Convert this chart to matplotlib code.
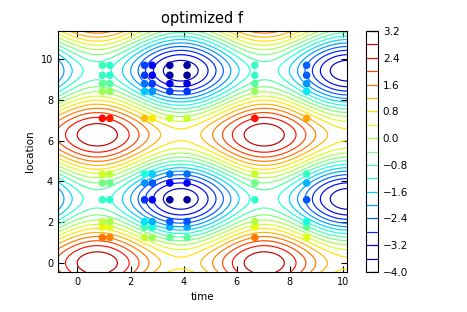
import matplotlib
matplotlib.use("Agg")
import matplotlib.pyplot as plt
import numpy as np

# field parameters: f = c + a*cos(y) + b*cos(t-t0) + d*cos(y)*cos(t-t0)
f_offset = -0.225
f_amp_loc = 2.225
f_amp_time = 1.275
f_amp_cross = -0.175
t_phase = 0.75
t_range = [-0.73, 10.15]
loc_range = [-0.44, 11.37]

levels = np.round(np.arange(-4.0, 3.21, 0.4), 1)
cbar_ticks = levels[::2]

# sample points (time columns x location rows)
pt_times = [0.94, 1.22, 2.53, 2.82, 3.48, 4.13, 6.68, 8.63]
pt_locs = [1.25, 1.76, 2.03, 3.10, 3.92, 4.36, 7.09, 8.41, 8.79, 9.20, 9.69]


def field(t, y):
    ct = np.cos(t - t_phase)
    cy = np.cos(y)
    return f_offset + f_amp_loc * cy + f_amp_time * ct + f_amp_cross * cy * ct


T, Y = np.meshgrid(np.linspace(t_range[0], t_range[1], 300),
                   np.linspace(loc_range[0], loc_range[1], 300))
F = field(T, Y)

PT, PY = np.meshgrid(pt_times, pt_locs)
PV = field(PT, PY)

plt.rcParams['font.family'] = 'DejaVu Sans'
plt.rcParams['xtick.direction'] = 'in'
plt.rcParams['ytick.direction'] = 'in'
plt.rcParams['xtick.top'] = True
plt.rcParams['ytick.right'] = True

fig = plt.figure(figsize=(4.67, 3.12), dpi=100)
ax = fig.add_axes([0.1242, 0.1282, 0.6188, 0.7724])
cax = fig.add_axes([0.7837, 0.1282, 0.0257, 0.7724])

cs = ax.contour(T, Y, F, levels=levels, cmap='jet', linewidths=0.85)
ax.scatter(PT.ravel(), PY.ravel(), c=PV.ravel(), cmap='jet', vmin=-4.0, vmax=3.2,
           s=30, linewidths=0, zorder=3)

ax.set_xlim(t_range)
ax.set_ylim(loc_range)
ax.set_xticks([0, 2, 4, 6, 8, 10])
ax.set_yticks([0, 2, 4, 6, 8, 10])
ax.tick_params(labelsize=7, length=4)
ax.set_xlabel('time', fontsize=7.5)
ax.set_ylabel('location', fontsize=7.5)
ax.set_title('optimized f', fontsize=10.5)

cb = fig.colorbar(cs, cax=cax)
cb.set_ticks(cbar_ticks)
cb.set_ticklabels([('%.1f' % (v + 0.0)).replace('-', '\u2212') for v in cbar_ticks])
cb.ax.tick_params(labelsize=7.5, direction='in', length=4)

fig.savefig('out.png', dpi=100)
